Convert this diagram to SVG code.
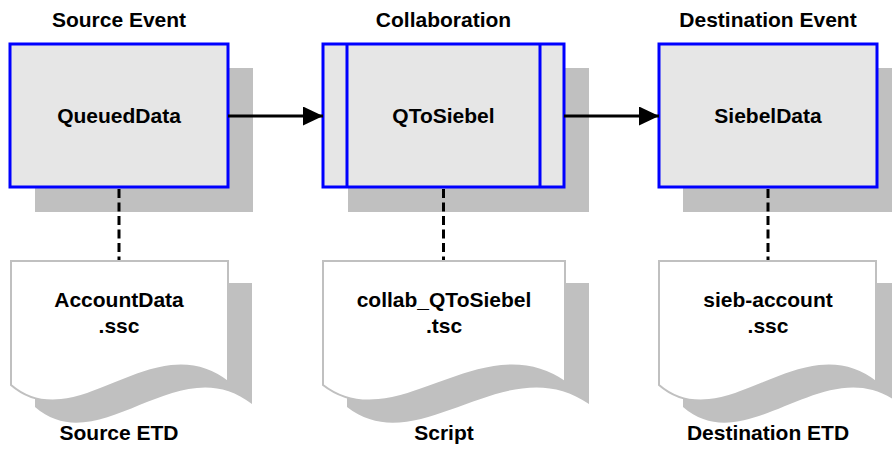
<svg xmlns="http://www.w3.org/2000/svg" width="892" height="450" viewBox="0 0 892 450">
<defs>
<style>
.t{font-family:"Liberation Sans",Arial,sans-serif;font-weight:bold;font-size:21px;fill:#000;text-anchor:middle}
.sh{fill:#c0c0c0;stroke:none}
.box{fill:#e6e6e6;stroke:#0000ff;stroke-width:3}
.doc{fill:#ffffff;stroke:#c0c0c0;stroke-width:2}
.dash{stroke:#000;stroke-width:3;stroke-dasharray:9,4.5;fill:none}
.arr{stroke:#000;stroke-width:3;fill:none}
</style>
<marker id="ah" markerWidth="20" markerHeight="19" refX="20" refY="9.5" orient="auto" markerUnits="userSpaceOnUse">
<path d="M0,0 L20,9.5 L0,19 Z" fill="#000"/>
</marker>
</defs>
<rect width="892" height="450" fill="#fff"/>
<text class="t" x="119" y="27">Source Event</text>
<text class="t" x="443.5" y="27">Collaboration</text>
<text class="t" x="768" y="27">Destination Event</text>

<g id="QueuedData">
<rect class="sh" x="35" y="68" width="218" height="144"/>
<rect class="box" x="10" y="44" width="218" height="143"/>
<text class="t" x="119" y="123">QueuedData</text>
</g>
<g id="QToSiebel">
<rect class="sh" x="348" y="68" width="241" height="144"/>
<rect class="box" x="323" y="44" width="241" height="143"/>
<line x1="347" y1="44" x2="347" y2="187" stroke="#0000ff" stroke-width="3"/>
<line x1="540" y1="44" x2="540" y2="187" stroke="#0000ff" stroke-width="3"/>
<text class="t" x="443.5" y="123">QToSiebel</text>
</g>
<g id="SiebelData">
<rect class="sh" x="683" y="68" width="218" height="144"/>
<rect class="box" x="659" y="44" width="218" height="143"/>
<text class="t" x="768" y="123">SiebelData</text>
</g>

<g id="connectors">
<line class="arr" x1="228" y1="116" x2="323" y2="116" marker-end="url(#ah)"/>
<line class="arr" x1="564" y1="116" x2="659" y2="116" marker-end="url(#ah)"/>
<line class="dash" x1="119" y1="189" x2="119" y2="260"/>
<line class="dash" x1="443.5" y1="189" x2="443.5" y2="260"/>
<line class="dash" x1="768" y1="189" x2="768" y2="260"/>
</g>

<g id="AccountData">
<path class="sh" d="M35,283 H252 V404 C178,346 100,463 35,407 Z"/>
<path class="doc" d="M11,261 H228 V382 C154,324 76,441 11,385 Z"/>
<text class="t" x="119" y="307">AccountData</text>
<text class="t" x="119" y="333">.ssc</text>
<text class="t" x="119" y="440">Source ETD</text>
</g>
<g id="collab_QToSiebel">
<path class="sh" d="M347,283 H589 V404 C506,346 419,463 347,407 Z"/>
<path class="doc" d="M323,261 H565 V382 C482,324 395,441 323,385 Z"/>
<text class="t" x="444" y="307">collab_QToSiebel</text>
<text class="t" x="444" y="333">.tsc</text>
<text class="t" x="444" y="440">Script</text>
</g>
<g id="sieb-account">
<path class="sh" d="M683,283 H900 V404 C826,346 748,463 683,407 Z"/>
<path class="doc" d="M659,261 H876 V382 C802,324 724,441 659,385 Z"/>
<text class="t" x="768" y="307">sieb-account</text>
<text class="t" x="768" y="333">.ssc</text>
<text class="t" x="768" y="440">Destination ETD</text>
</g>
</svg>
